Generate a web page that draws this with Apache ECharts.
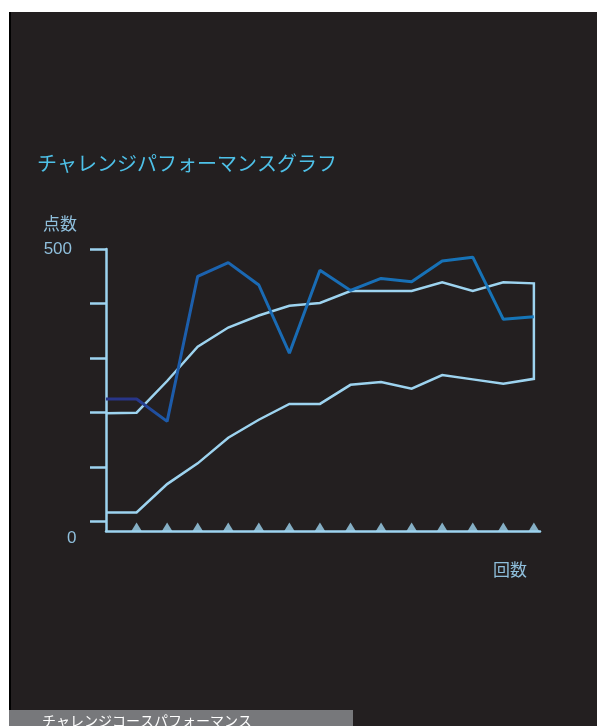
<!DOCTYPE html>
<html>
<head>
<meta charset="utf-8">
<script src="https://cdn.jsdelivr.net/npm/echarts@6/dist/echarts.min.js"></script>
<style>
  html, body { margin: 0; padding: 0; background: #ffffff; }
  #bg { position: absolute; left: 9px; top: 12px; width: 588px; height: 714px; background: #231f20; border-left: 2px solid #000; box-sizing: border-box; }
  #chart { position: absolute; left: 0; top: 0; width: 597px; height: 726px; }
</style>
</head>
<body>
<div id="bg"></div>
<div id="chart"></div>
<script>
// ---- data ----
const rounds = [0, 1, 2, 3, 4, 5, 6, 7, 8, 9, 10, 11, 12, 13, 14];
const markerRounds = [1, 2, 3, 4, 5, 6, 7, 8, 9, 10, 11, 12, 13, 14];
const upperScores = [199, 200, 258, 321, 356, 378, 396, 401, 423, 423, 423, 439, 423, 439, 437];
const lowerScores = [17, 17, 69, 107, 154, 187, 216, 216, 251, 256, 244, 269, 261, 253, 262];
const challengeScores = [225, 225, 184, 450, 475, 434, 309, 461, 424, 446, 440, 478, 485, 371, 376];
const yTickValues = [0, 100, 200, 300, 400, 500];
const yLabelValues = [500];

const LIGHT = '#9dd3ef';
const LABEL = '#8fbfdc';
const CJK = '"Noto Sans CJK JP", "Noto Sans", sans-serif';
const LAT = '"Liberation Sans", Arial, sans-serif';

// closed outline: upper line, down at the last round, back along lower line
const bandPath = rounds.map((r, i) => [r, upperScores[i]])
  .concat(rounds.slice().reverse().map(r => [r, lowerScores[r]]));
const challengeData = rounds.map((r, i) => [r, challengeScores[i]]);
const markerData = markerRounds.map(r => [r, -17]);

const chart = echarts.init(document.getElementById('chart'), null, { renderer: 'canvas' });
chart.setOption({
  backgroundColor: 'transparent',
  animation: false,
  title: {
    text: 'チャレンジパフォーマンスグラフ',
    left: 37, top: 153, padding: 0,
    textStyle: { color: '#4ec1e8', fontSize: 20, fontWeight: 'normal', fontFamily: CJK }
  },
  grid: { left: 106, right: 57, top: 249, bottom: 195, containLabel: false },
  xAxis: {
    type: 'value', min: 0, max: 14.2,
    axisLine: { show: true, onZero: false, lineStyle: { color: LIGHT, width: 2.5 } },
    axisTick: { show: false },
    axisLabel: { show: false },
    splitLine: { show: false }
  },
  yAxis: {
    type: 'value', min: -17, max: 500,
    axisLine: { show: true, onZero: false, lineStyle: { color: LIGHT, width: 2.5 } },
    axisTick: { show: true, inside: false, length: 16, customValues: yTickValues, lineStyle: { color: LIGHT, width: 2.5 } },
    axisLabel: { show: true, customValues: yLabelValues, margin: 34, color: LABEL, fontSize: 17, fontFamily: LAT },
    splitLine: { show: false }
  },
  series: [
    {
      name: 'band', type: 'line', data: bandPath, symbol: 'none', z: 2,
      lineStyle: { color: LIGHT, width: 2.5, join: 'miter' }
    },
    {
      name: 'challenge', type: 'line', data: challengeData, symbol: 'none', z: 3,
      lineStyle: {
        width: 3,
        color: new echarts.graphic.LinearGradient(0, 0, 1, 0, [
          { offset: 0, color: '#283588' },
          { offset: 0.075, color: '#283588' },
          { offset: 0.14, color: '#1d5aa9' },
          { offset: 0.35, color: '#1a6ab4' },
          { offset: 1, color: '#1576b9' }
        ])
      }
    },
    {
      name: 'markers', type: 'scatter', data: markerData, symbol: 'triangle',
      symbolSize: [11, 9], symbolOffset: [0, -4], z: 4,
      itemStyle: { color: LIGHT }
    }
  ],
  graphic: [
    { type: 'text', left: 43, top: 215, z: 10,
      style: { text: '点数', fill: LABEL, fontSize: 17, fontFamily: CJK } },
    { type: 'text', left: 67, top: 530, z: 10,
      style: { text: '0', fill: LABEL, fontSize: 17, fontFamily: LAT } },
    { type: 'text', left: 493, top: 561, z: 10,
      style: { text: '回数', fill: LABEL, fontSize: 17, fontFamily: CJK } },
    { type: 'rect', left: 9, top: 710, z: 10,
      shape: { width: 344, height: 16 }, style: { fill: '#77787b' } },
    { type: 'text', left: 42, top: 714, z: 11,
      style: { text: 'チャレンジコースパフォーマンス', fill: '#ffffff', fontSize: 14, fontFamily: CJK } }
  ]
});
</script>
</body>
</html>
